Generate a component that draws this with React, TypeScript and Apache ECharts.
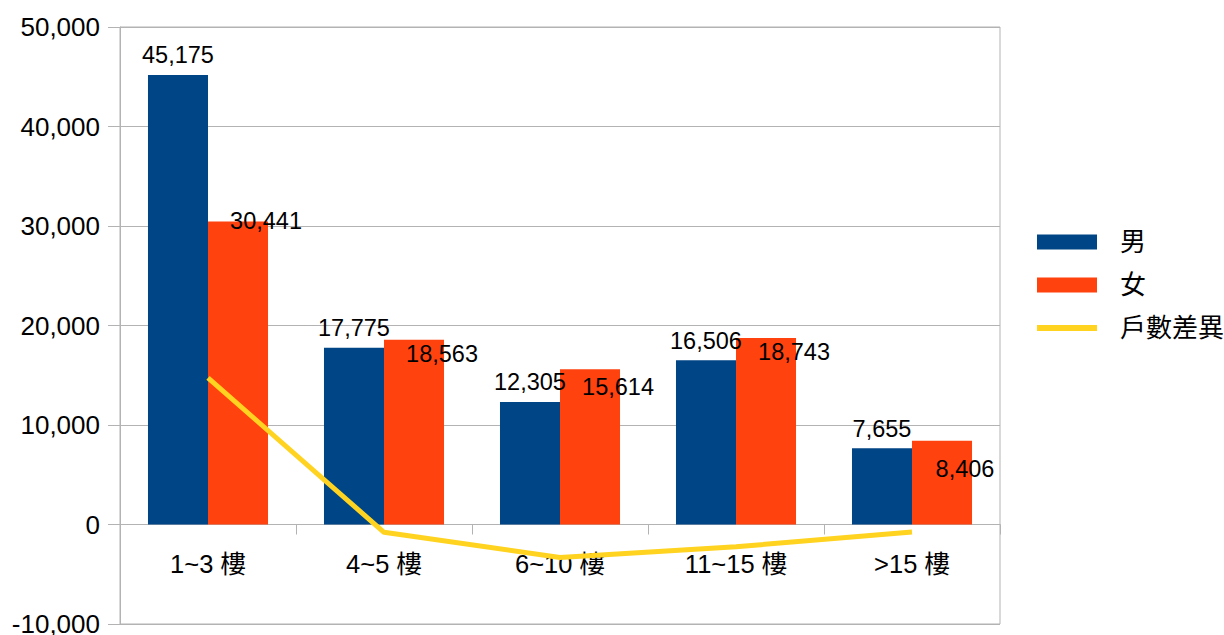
import React, { useEffect, useRef } from "react";
import * as echarts from "echarts";

const categories = ["1~3 樓", "4~5 樓", "6~10 樓", "11~15 樓", ">15 樓"];
const maleValues = [45175, 17775, 12305, 16506, 7655];
const femaleValues = [30441, 18563, 15614, 18743, 8406];
const diffValues = [14734, -788, -3309, -2237, -751];
const seriesNames = ["男", "女", "戶數差異"];
const yTicks = { min: -10000, max: 50000, interval: 10000 };

// label nudges for the female series (style only)
const femaleLabelOffsets = [
  [-2, -1],
  [-2, 14],
  [-2, 18],
  [-2, 14],
  [-7, 28],
];

const FONT = '"Liberation Sans", "Noto Sans CJK TC", sans-serif';

const GRID_TOP = 27;
const GRID_BOTTOM = 11;
const CHART_H = 635;

export default function App() {
  const ref = useRef<HTMLDivElement>(null);
  useEffect(() => {
    if (!ref.current) return;
    const chart = echarts.init(ref.current, undefined, { renderer: "svg" });
    const plotH = CHART_H - GRID_TOP - GRID_BOTTOM;
    // distance from the bottom of the plot to the zero line, via the axis range
    const zeroOffset = (plotH * (0 - yTicks.min)) / (yTicks.max - yTicks.min);
    chart.setOption({
      animation: false,
      textStyle: { fontFamily: FONT, color: "#000" },
      grid: {
        left: 120,
        right: 224,
        top: GRID_TOP,
        bottom: GRID_BOTTOM,
        show: true,
        borderColor: "#b3b3b3",
        borderWidth: 1,
        containLabel: false,
        outerBoundsMode: "none",
      },
      legend: {
        orient: "vertical",
        left: 1034,
        top: 229,
        padding: 0,
        itemWidth: 60,
        itemHeight: 15,
        itemGap: 17,
        textStyle: { fontSize: 26, color: "#000", fontFamily: FONT, padding: [0, 0, 0, 18] },
        data: [
          { name: seriesNames[0], icon: "rect" },
          { name: seriesNames[1], icon: "rect" },
          {
            name: seriesNames[2],
            itemStyle: { opacity: 0 },
            lineStyle: { width: 6, color: "#ffd320" },
          },
        ],
      },
      xAxis: {
        type: "category",
        data: categories,
        position: "bottom",
        offset: -zeroOffset,
        axisLine: { onZero: false, lineStyle: { color: "#b3b3b3", width: 1 } },
        axisTick: { show: true, length: 10, lineStyle: { color: "#b3b3b3" } },
        axisLabel: { fontSize: 25.5, color: "#000", margin: 27, fontFamily: FONT },
        splitLine: { show: false },
      },
      yAxis: {
        type: "value",
        min: yTicks.min,
        max: yTicks.max,
        interval: yTicks.interval,
        axisLine: { show: true, lineStyle: { color: "#b3b3b3" } },
        axisTick: { show: true, length: 12, lineStyle: { color: "#b3b3b3" } },
        axisLabel: {
          fontSize: 26,
          color: "#000",
          margin: 20,
          fontFamily: FONT,
          formatter: (v: number) => v.toLocaleString("en-US"),
        },
        splitLine: { show: true, lineStyle: { color: "#b3b3b3", width: 1 } },
      },
      series: [
        {
          name: seriesNames[0],
          type: "bar",
          data: maleValues,
          barGap: "0%",
          barCategoryGap: "31.8%",
          itemStyle: { color: "#004586" },
          label: {
            show: true,
            position: "top",
            distance: 8,
            fontSize: 23.5,
            color: "#000",
            fontFamily: FONT,
            formatter: (p: any) => Number(p.value).toLocaleString("en-US"),
          },
          z: 2,
        },
        {
          name: seriesNames[1],
          type: "bar",
          data: femaleValues.map((v, i) => ({
            value: v,
            label: { offset: femaleLabelOffsets[i] },
          })),
          itemStyle: { color: "#ff420e" },
          label: {
            show: true,
            position: ["100%", 0],
            align: "center",
            verticalAlign: "middle",
            fontSize: 23.5,
            color: "#000",
            fontFamily: FONT,
            formatter: (p: any) => Number(p.value).toLocaleString("en-US"),
          },
          z: 2,
        },
        {
          name: seriesNames[2],
          type: "line",
          data: diffValues,
          symbol: "none",
          showSymbol: false,
          lineStyle: { color: "#ffd320", width: 5 },
          itemStyle: { color: "#ffd320" },
          z: 5,
        },
      ],
    });
    return () => chart.dispose();
  }, []);
  return <div ref={ref} style={{ width: 1224, height: 635, position: "absolute", left: 0, top: 0 }} />;
}
